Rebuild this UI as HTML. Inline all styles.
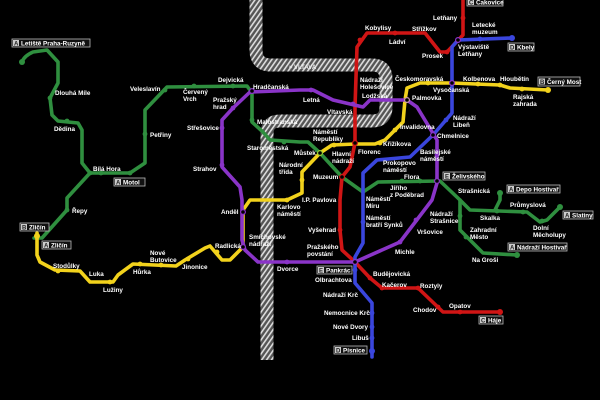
<!DOCTYPE html>
<html><head><meta charset="utf-8"><style>
html,body{margin:0;padding:0;background:#000;}
svg{display:block}
text{font-family:"Liberation Sans",sans-serif;font-size:6.3px;font-weight:bold;fill:#fff;}
.bx rect.o{fill:#111;stroke:#bbb;stroke-width:0.8}
.bx rect.l{fill:#ccc}
.bx text.l{fill:#222;font-size:6px}
</style></head><body>
<svg width="600" height="400" viewBox="0 0 600 400" xmlns="http://www.w3.org/2000/svg">
<defs>
<pattern id="h" width="4" height="4" patternUnits="userSpaceOnUse" patternTransform="rotate(35)">
<rect width="4" height="4" fill="#555"/><rect width="1.6" height="4" fill="#ddd"/>
</pattern>
</defs>
<rect width="600" height="400" fill="#000"/>
<!-- river -->
<path d="M256,0 V50 Q256,65 271,65 H372 Q386,65 386,79 V107 Q386,121 372,121 H280 Q267,121 267,134 V360" fill="none" stroke="url(#h)" stroke-width="13"/>
<text x="289" y="69" style="font-size:6px;fill:#eee">≈ VLTAVA</text>

<g fill="none" stroke-width="3.6" stroke-linejoin="round" stroke-linecap="round">
<!-- green A -->
<path stroke="#2f8f3f" d="M22,62 Q24,56 33,52 L47,50 L58,62 L58,83 L50,98 L52,115 L58,121 L78,123 L82,130 L82,163 L90,173 L130,173 L145,163 L145,110 L167,87 L247,86 L252,93 L252,122 L263,132 L270,140 L300,142 L308,142 L320,153 L342,177 L363,192 L378,182 L440,181 L460,200 L470,210 L527,212 L540,222 L547,220 L560,207"/>
<path stroke="#2f8f3f" d="M495,210 L500,200 L500,193"/>
<path stroke="#2f8f3f" d="M460,200 L460,230 L483,253 L517,255"/>
<path stroke="#2f8f3f" d="M90,173 L67,198 L67,210 L42,238 L34,238"/>
<!-- yellow B -->
<path stroke="#f2d21c" d="M37,233 L37,255 L40,262 L55,270 L80,271 L90,282 L113,282 L118,275 L133,264 L176,266 L185,260 L205,248 L210,246 L222,260 L230,260 L243,247 L243,210 L250,200 L287,200 L302,193 L302,172 L320,153 L332,145 L355,144 L375,144 L385,140 L403,122 L405,100 L407,88 L420,83 L452,83 L500,85 L510,88 L548,90"/>
<!-- red C -->
<path stroke="#d01515" d="M463,0 L463,35 L447,52 L440,52 L425,33 L367,33 L357,47 L355,107 L355,143 L350,167 L342,177 L340,200 L340,230 L342,250 L355,262 L370,278 L382,288 L418,288 L443,312 L500,312"/>
<!-- blue D -->
<path stroke="#3a46dd" d="M512,38 L458,40 L452,47 L452,113 L433,135 L410,157 L377,160 L363,173 L363,243 L355,257 L355,283 L372,303 L372,357"/>
<!-- purple E -->
<path stroke="#8a34c8" d="M300,262 L355,262 L400,242 L432,200 L437,183 L437,140 L417,107 L407,100 L370,100 L363,107 L333,100 L313,90 L300,90 L250,92 L233,108 L222,120 L222,167 L240,187 L242,200 L242,240 L245,250 L258,262 L300,262"/>
</g>
<!-- station dots -->
<g>
<g fill="#2f8f3f"><circle cx="22" cy="62" r="3"/><circle cx="50" cy="98" r="2.4"/><circle cx="67" cy="121" r="2.4"/><circle cx="90" cy="173" r="2.4"/><circle cx="101" cy="173" r="2.4"/><circle cx="130" cy="173" r="2.4"/><circle cx="145" cy="134" r="2.4"/><circle cx="165" cy="90" r="2.4"/><circle cx="194" cy="86" r="2.4"/><circle cx="233" cy="86" r="2.4"/><circle cx="252" cy="120" r="2.4"/><circle cx="284" cy="142" r="2.4"/><circle cx="420" cy="181" r="2.4"/><circle cx="402" cy="181" r="2.4"/><circle cx="497" cy="211" r="2.4"/><circle cx="523" cy="212" r="2.4"/><circle cx="542" cy="221" r="2.4"/><circle cx="560" cy="207" r="3"/><circle cx="500" cy="193" r="3"/><circle cx="460" cy="216" r="2.4"/><circle cx="466" cy="237" r="2.4"/><circle cx="517" cy="255" r="3"/><circle cx="67" cy="210" r="2.4"/></g>
<g fill="#f2d21c"><circle cx="37" cy="236" r="3"/><circle cx="58" cy="271" r="2.4"/><circle cx="110" cy="282" r="2.4"/><circle cx="140" cy="264" r="2.4"/><circle cx="161" cy="265" r="2.4"/><circle cx="188" cy="259" r="2.4"/><circle cx="217" cy="252" r="2.4"/><circle cx="287" cy="200" r="2.4"/><circle cx="302" cy="180" r="2.4"/><circle cx="334" cy="145" r="2.4"/><circle cx="380" cy="143" r="2.4"/><circle cx="395" cy="130" r="2.4"/><circle cx="428" cy="83" r="2.4"/><circle cx="478" cy="84" r="2.4"/><circle cx="500" cy="85" r="2.4"/><circle cx="522" cy="89" r="2.4"/><circle cx="548" cy="90" r="3"/></g>
<g fill="#d01515"><circle cx="463" cy="18" r="2.4"/><circle cx="447" cy="52" r="2.4"/><circle cx="395" cy="33" r="2.4"/><circle cx="360" cy="40" r="2.4"/><circle cx="340" cy="230" r="2.4"/><circle cx="370" cy="278" r="2.4"/><circle cx="382" cy="288" r="2.4"/><circle cx="418" cy="288" r="2.4"/><circle cx="438" cy="307" r="2.4"/><circle cx="460" cy="312" r="2.4"/><circle cx="500" cy="312" r="3"/></g>
<g fill="#3a46dd"><circle cx="512" cy="38" r="3"/><circle cx="480" cy="39" r="2.4"/><circle cx="446" cy="120" r="2.4"/><circle cx="363" cy="222" r="2.4"/><circle cx="355" cy="270" r="2.4"/><circle cx="372" cy="313" r="2.4"/><circle cx="372" cy="327" r="2.4"/><circle cx="372" cy="338" r="2.4"/><circle cx="372" cy="351" r="3"/></g>
<g fill="#8a34c8"><circle cx="233" cy="108" r="2.4"/><circle cx="222" cy="128" r="2.4"/><circle cx="222" cy="165" r="2.4"/><circle cx="287" cy="262" r="2.4"/><circle cx="400" cy="242" r="2.4"/><circle cx="416" cy="220" r="2.4"/><circle cx="437" cy="155" r="2.4"/><circle cx="311" cy="90" r="2.4"/><circle cx="353" cy="104" r="2.4"/></g>
<g fill="#000" stroke-width="1.2"><circle cx="355" cy="143" r="2.4" stroke="#d01515"/><circle cx="342" cy="177" r="2.4" stroke="#d01515"/><circle cx="320" cy="153" r="2.4" stroke="#9c3"/><circle cx="407" cy="100" r="2.4" stroke="#c9a"/><circle cx="452" cy="83" r="2.4" stroke="#8a34c8"/><circle cx="433" cy="135" r="2.4" stroke="#8a34c8"/><circle cx="355" cy="262" r="2.4" stroke="#8a34c8"/><circle cx="252" cy="91" r="2.4" stroke="#8a34c8"/><circle cx="243" cy="247" r="2.4" stroke="#8a34c8"/><circle cx="243" cy="212" r="2.4" stroke="#8a34c8"/><circle cx="458" cy="40" r="2.4" stroke="#8a34c8"/><circle cx="437" cy="181" r="2.4" stroke="#8a34c8"/></g>
</g>

<!-- boxes -->
<g class="bx">
<rect class="o" x="12" y="39" width="78" height="8"/><rect class="l" x="13" y="40" width="6" height="6"/><text class="l" x="14" y="45.5">A</text><text x="21" y="45.5">Letiště Praha-Ruzyně</text>
<rect class="o" x="114" y="178" width="31" height="8"/><rect class="l" x="115" y="179" width="6" height="6"/><text class="l" x="116" y="184.5">A</text><text x="123" y="184.5">Motol</text>
<rect class="o" x="20" y="223" width="29" height="8"/><rect class="l" x="21" y="224" width="6" height="6"/><text class="l" x="22" y="229.5">B</text><text x="29" y="229.5">Zličín</text>
<rect class="o" x="42" y="241" width="29" height="8"/><rect class="l" x="43" y="242" width="6" height="6"/><text class="l" x="44" y="247.5">A</text><text x="51" y="247.5">Zličín</text>
<rect class="o" x="467" y="-2" width="36" height="8"/><rect class="l" x="468" y="-1" width="6" height="6"/><text class="l" x="469" y="4.5">C</text><text x="476" y="4.5">Čakovice</text>
<rect class="o" x="508" y="43" width="26" height="8"/><rect class="l" x="509" y="44" width="6" height="6"/><text class="l" x="510" y="49.5">D</text><text x="517" y="49.5">Kbely</text>
<rect class="o" x="538" y="77" width="42" height="9"/><rect class="l" x="539" y="78.5" width="6" height="6"/><text class="l" x="540" y="84">B</text><text x="547" y="84">Černý Most</text>
<rect class="o" x="443" y="172" width="42" height="8"/><rect class="l" x="444" y="173" width="6" height="6"/><text class="l" x="445" y="178.5">E</text><text x="452" y="178.5">Želivského</text>
<rect class="o" x="507" y="185" width="53" height="8"/><rect class="l" x="508" y="186" width="6" height="6"/><text class="l" x="509" y="191.5">A</text><text x="516" y="191.5">Depo Hostivař</text>
<rect class="o" x="563" y="211" width="30" height="8"/><rect class="l" x="564" y="212" width="6" height="6"/><text class="l" x="565" y="217.5">A</text><text x="572" y="217.5">Slatiny</text>
<rect class="o" x="508" y="243" width="59" height="8"/><rect class="l" x="509" y="244" width="6" height="6"/><text class="l" x="510" y="249.5">A</text><text x="517" y="249.5">Nádraží Hostivař</text>
<rect class="o" x="317" y="266" width="35" height="8"/><rect class="l" x="318" y="267" width="6" height="6"/><text class="l" x="319" y="272.5">E</text><text x="326" y="272.5">Pankrác</text>
<rect class="o" x="479" y="316" width="24" height="8"/><rect class="l" x="480" y="317" width="6" height="6"/><text class="l" x="481" y="322.5">C</text><text x="488" y="322.5">Háje</text>
<rect class="o" x="334" y="346" width="33" height="8"/><rect class="l" x="335" y="347" width="6" height="6"/><text class="l" x="336" y="352.5">D</text><text x="343" y="352.5">Písnice</text>
</g>

<!-- labels -->
<g>
<text x="55" y="95">Dlouhá Míle</text>
<text x="54" y="131">Dědina</text>
<text x="93" y="171">Bílá Hora</text>
<text x="150" y="137">Petřiny</text>
<text x="130" y="91">Veleslavín</text>
<text x="183" y="94">Červený</text><text x="183" y="101">Vrch</text>
<text x="218" y="82">Dejvická</text>
<text x="253" y="89">Hradčanská</text>
<text x="213" y="102">Pražský</text><text x="213" y="109">hrad</text>
<text x="187" y="130">Střešovice</text>
<text x="193" y="171">Strahov</text>
<text x="257" y="124">Malostranská</text>
<text x="247" y="150">Staroměstská</text>
<text x="279" y="167">Národní</text><text x="279" y="174">třída</text>
<text x="294" y="155">Můstek</text>
<text x="313" y="134">Náměstí</text><text x="313" y="141">Republiky</text>
<text x="332" y="156">Hlavní</text><text x="332" y="163">nádraží</text>
<text x="358" y="154">Florenc</text>
<text x="383" y="146">Křižíkova</text>
<text x="400" y="129">Invalidovna</text>
<text x="313" y="179">Muzeum</text>
<text x="302" y="202">I.P. Pavlova</text>
<text x="277" y="209">Karlovo</text><text x="277" y="216">náměstí</text>
<text x="221" y="214">Anděl</text>
<text x="249" y="239">Smíchovské</text><text x="249" y="246">nádraží</text>
<text x="308" y="232">Vyšehrad</text>
<text x="307" y="249">Pražského</text><text x="307" y="256">povstání</text>
<text x="366" y="201">Náměstí</text><text x="366" y="208">Míru</text>
<text x="366" y="220">Náměstí</text><text x="366" y="227">bratří Synků</text>
<text x="383" y="165">Prokopovo</text><text x="383" y="172">náměstí</text>
<text x="390" y="190">Jiřího</text><text x="390" y="197">z Poděbrad</text>
<text x="404" y="179">Flora</text>
<text x="420" y="154">Basilejské</text><text x="420" y="161">náměstí</text>
<text x="437" y="138">Chmelnice</text>
<text x="453" y="120">Nádraží</text><text x="453" y="127">Libeň</text>
<text x="412" y="100">Palmovka</text>
<text x="433" y="92">Vysočanská</text>
<text x="395" y="81">Českomoravská</text>
<text x="463" y="81">Kolbenova</text>
<text x="500" y="81">Hloubětín</text>
<text x="513" y="99">Rajská</text><text x="513" y="106">zahrada</text>
<text x="360" y="82">Nádraží</text><text x="360" y="89">Holešovice</text>
<text x="362" y="98">Lodžská</text>
<text x="303" y="102">Letná</text>
<text x="327" y="114">Vltavská</text>
<text x="365" y="30">Kobylisy</text>
<text x="389" y="44">Ládví</text>
<text x="412" y="31">Střížkov</text>
<text x="422" y="58">Prosek</text>
<text x="433" y="20">Letňany</text>
<text x="472" y="27">Letecké</text><text x="472" y="34">muzeum</text>
<text x="458" y="49">Výstaviště</text><text x="458" y="56">Letňany</text>
<text x="458" y="193">Strašnická</text>
<text x="510" y="207">Průmyslová</text>
<text x="480" y="220">Skalka</text>
<text x="533" y="230">Dolní</text><text x="533" y="237">Měcholupy</text>
<text x="430" y="216">Nádraží</text><text x="430" y="223">Strašnice</text>
<text x="470" y="232">Zahradní</text><text x="470" y="239">Město</text>
<text x="472" y="262">Na Groši</text>
<text x="417" y="234">Vršovice</text>
<text x="395" y="254">Michle</text>
<text x="315" y="282">Olbrachtova</text>
<text x="373" y="276">Budějovická</text>
<text x="382" y="287">Kačerov</text>
<text x="420" y="288">Roztyly</text>
<text x="323" y="297">Nádraží Krč</text>
<text x="413" y="312">Chodov</text>
<text x="449" y="308">Opatov</text>
<text x="324" y="315">Nemocnice Krč</text>
<text x="333" y="329">Nové Dvory</text>
<text x="352" y="340">Libuš</text>
<text x="72" y="213">Řepy</text>
<text x="53" y="268">Stodůlky</text>
<text x="89" y="276">Luka</text>
<text x="103" y="292">Lužiny</text>
<text x="133" y="274">Hůrka</text>
<text x="150" y="255">Nové</text><text x="150" y="262">Butovice</text>
<text x="182" y="269">Jinonice</text>
<text x="215" y="248">Radlická</text>
<text x="277" y="271">Dvorce</text>
</g>
</svg>
</body></html>
